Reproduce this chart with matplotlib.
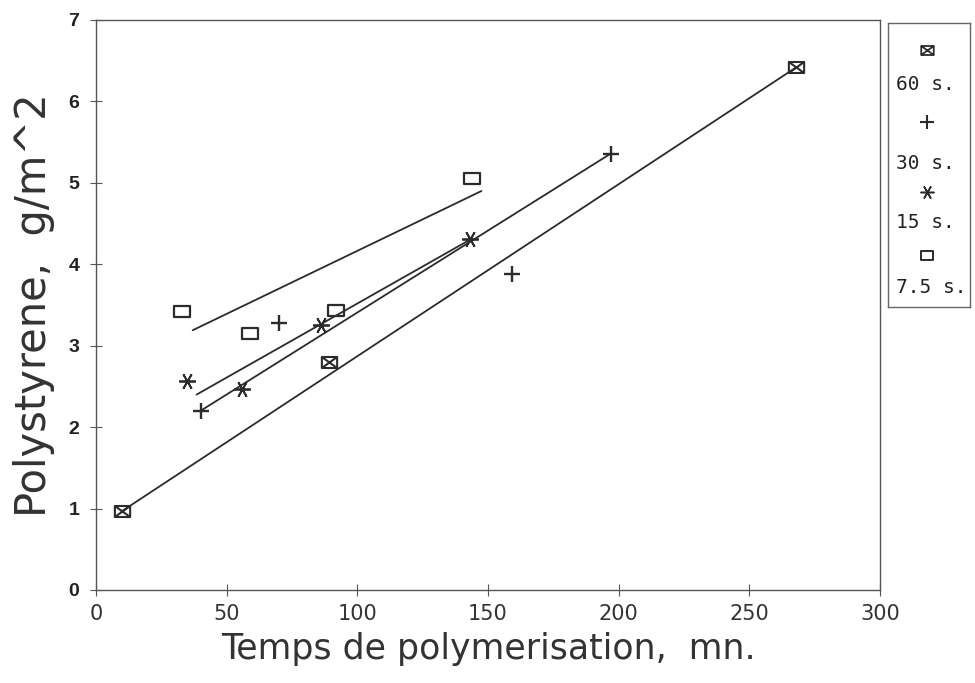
import matplotlib
matplotlib.use("Agg")
import matplotlib.pyplot as plt
from matplotlib.path import Path

# polymerisation time (mn) and polystyrene deposit (g/m^2) per exposure
t60 = [10, 89, 268]
p60 = [0.97, 2.80, 6.42]
t30 = [40, 70, 159, 197]
p30 = [2.20, 3.28, 3.88, 5.36]
t15 = [35, 56, 86, 143]
p15 = [2.57, 2.47, 3.26, 4.31]
t75 = [33, 59, 92, 144]
p75 = [3.43, 3.16, 3.44, 5.06]

# straight trend lines (start / end)
fit60_t = [10, 268]
fit60_p = [0.97, 6.42]
fit30_t = [40, 197]
fit30_p = [2.20, 5.36]
fit15_t = [38.5, 143]
fit15_p = [2.40, 4.30]
fit75_t = [37, 147.5]
fit75_p = [3.19, 4.90]

labels = ["60 s.", "30 s.", "15 s.", "7.5 s."]
xticks = [0, 50, 100, 150, 200, 250, 300]
yticks = [0, 1, 2, 3, 4, 5, 6, 7]

# rectangle markers, one with a cross inside
rect = Path([(-1, -0.72), (1, -0.72), (1, 0.72), (-1, 0.72), (-1, -0.72)],
            [Path.MOVETO, Path.LINETO, Path.LINETO, Path.LINETO, Path.CLOSEPOLY])
xbox = Path([(-1, -0.72), (1, -0.72), (1, 0.72), (-1, 0.72), (-1, -0.72),
             (-1, -0.72), (1, 0.72), (-1, 0.72), (1, -0.72)],
            [Path.MOVETO, Path.LINETO, Path.LINETO, Path.LINETO, Path.CLOSEPOLY,
             Path.MOVETO, Path.LINETO, Path.MOVETO, Path.LINETO])
star = (6, 2, 90)

ink = "#2b2b2b"
markers = [xbox, "+", star, rect]
sizes = [11, 12, 12, 11]
widths = [1.5, 1.7, 1.3, 1.6]

fig = plt.figure(figsize=(9.75, 6.83), dpi=100)
ax = fig.add_axes([96 / 975, 1 - 590 / 683, 784 / 975, 570 / 683])

series = [(t60, p60, fit60_t, fit60_p), (t30, p30, fit30_t, fit30_p),
          (t15, p15, fit15_t, fit15_p), (t75, p75, fit75_t, fit75_p)]
for (t, p, ft, fp), m, s, w in zip(series, markers, sizes, widths):
    ax.plot(ft, fp, color=ink, lw=1.3, solid_capstyle="round")
    ax.plot(t, p, ls="none", marker=m, ms=s, mfc="none", mec=ink, mew=w)

ax.set_xlim(0, 300)
ax.set_ylim(0, 7)
ax.set_xticks(xticks)
ax.set_yticks(yticks)
ax.tick_params(axis="both", direction="inout", length=8, width=0.8, color="#555555")
ax.tick_params(axis="x", labelsize=15, pad=6, labelcolor="#333333")
ax.tick_params(axis="y", labelsize=14, pad=8, labelcolor="#222222")
for lab in ax.get_yticklabels():
    lab.set_fontweight("bold")
    lab.set_family("Liberation Sans")
for sp in ax.spines.values():
    sp.set_color("#555555")
    sp.set_linewidth(1.0)

ax.set_xlabel("Temps de polymerisation,  mn.", fontsize=25, color="#333333", labelpad=6)
ax.set_ylabel("Polystyrene,  g/m^2", fontsize=30, color="#333333", labelpad=10)

# legend panel at the right: marker above each label
lg = fig.add_axes([888 / 975, 1 - 307 / 683, 82 / 975, 284 / 683])
lg.set_xlim(0, 1)
lg.set_ylim(0, 1)
lg.set_xticks([])
lg.set_yticks([])
for sp in lg.spines.values():
    sp.set_color("#666666")
    sp.set_linewidth(1.0)
mark_y = [0.905, 0.651, 0.405, 0.183]
text_y = [0.782, 0.507, 0.296, 0.070]
for m, s, w, my, ty, lab in zip(markers, sizes, widths, mark_y, text_y, labels):
    lg.plot([0.476], [my], ls="none", marker=m, ms=s - 2, mfc="none", mec=ink, mew=w - 0.2)
    lg.text(0.10, ty, lab, fontsize=14, family="DejaVu Sans Mono", color="#222222",
            va="center", ha="left")

fig.savefig("out.png", dpi=100)
